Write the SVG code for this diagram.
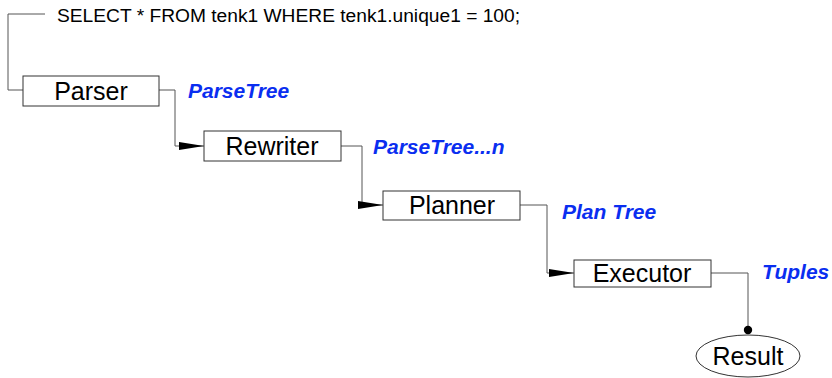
<svg xmlns="http://www.w3.org/2000/svg" width="832" height="378" viewBox="0 0 832 378">
<style>
.box{fill:#fff;stroke:#333;stroke-width:1}
.lbl{font-family:"Liberation Sans",Arial,sans-serif;font-size:25px;fill:#000;text-anchor:middle}
.sql{font-family:"Liberation Sans",Arial,sans-serif;font-size:19.2px;fill:#000}
.data{font-family:"Liberation Sans",Arial,sans-serif;font-size:21px;font-weight:bold;font-style:italic;fill:#0a2ef0}
.conn{fill:none;stroke:#555;stroke-width:1}
</style>
<defs>
<marker id="arr" markerUnits="userSpaceOnUse" markerWidth="26" markerHeight="10" refX="25" refY="5" orient="auto">
<path d="M0,1 L25,5 L0,9 Z" fill="#000"/>
</marker>
<marker id="dot" markerUnits="userSpaceOnUse" markerWidth="10" markerHeight="10" refX="5" refY="5" orient="auto">
<circle cx="5" cy="5" r="4.2" fill="#000"/>
</marker>
</defs>
<g id="connectors">
<path class="conn" d="M45,14 H8 V90 H23"/>
<path class="conn" d="M159,90 H175 V146 H204" marker-end="url(#arr)"/>
<path class="conn" d="M341,146 H362 V205 H383" marker-end="url(#arr)"/>
<path class="conn" d="M520,205 H547 V273 H574" marker-end="url(#arr)"/>
<path class="conn" d="M711,273 H748 V330" marker-end="url(#dot)"/>
</g>
<g id="query">
<text class="sql" x="57" y="22">SELECT * FROM tenk1 WHERE tenk1.unique1 = 100;</text>
</g>
<g id="parser">
<rect class="box" x="23" y="76" width="136" height="30"/>
<text class="lbl" x="91" y="100">Parser</text>
</g>
<g id="rewriter">
<rect class="box" x="204" y="131" width="137" height="30"/>
<text class="lbl" x="272" y="155">Rewriter</text>
</g>
<g id="planner">
<rect class="box" x="383" y="191" width="137" height="29"/>
<text class="lbl" x="452" y="214">Planner</text>
</g>
<g id="executor">
<rect class="box" x="574" y="260" width="137" height="27"/>
<text class="lbl" x="642" y="282">Executor</text>
</g>
<g id="result">
<ellipse class="box" cx="748" cy="356" rx="52" ry="21"/>
<text class="lbl" x="748" y="365">Result</text>
</g>
<g id="labels">
<text class="data" x="188" y="98">ParseTree</text>
<text class="data" x="373" y="154">ParseTree...n</text>
<text class="data" x="562" y="219">Plan Tree</text>
<text class="data" x="762" y="279">Tuples</text>
</g>
</svg>
